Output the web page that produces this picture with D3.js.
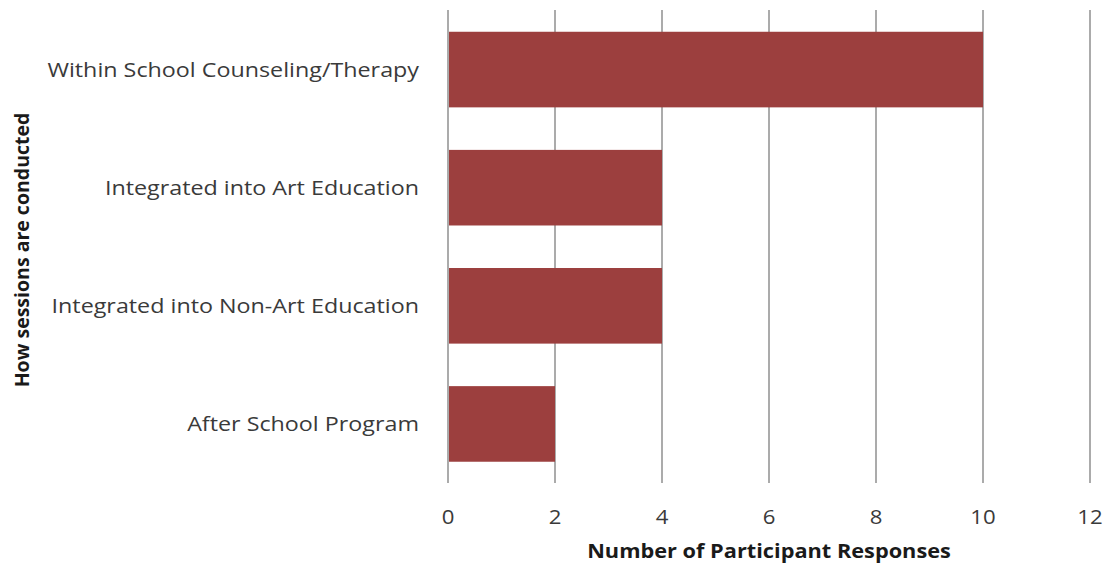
<!DOCTYPE html>
<html>
<head>
<meta charset="utf-8">
<script src="https://cdn.jsdelivr.net/npm/d3@7"></script>
<style>
  html, body { margin: 0; padding: 0; background: #fff; }
  svg { display: block; }
  .cat-label { font-family: "Open Sans", sans-serif; font-size: 20px; fill: #3a3a3a; }
  .tick-label { font-family: "Open Sans", sans-serif; font-size: 20px; fill: #3a3a3a; }
  .axis-title { font-family: "Open Sans", sans-serif; font-size: 19px; font-weight: bold; fill: #1a1a1a; }
</style>
</head>
<body>
<svg id="chart" width="1109" height="565"></svg>
<script>
// How art-therapy sessions are conducted, by number of responses
const categories = [
  "Within School Counseling/Therapy",
  "Integrated into Art Education",
  "Integrated into Non-Art Education",
  "After School Program"
];
const responses = [10, 4, 4, 2];
const xTicks = [0, 2, 4, 6, 8, 10, 12];
const xTitle = "Number of Participant Responses";
const yTitle = "How sessions are conducted";

const svg = d3.select("#chart");
const plot = { left: 448, right: 1090, top: 10, bottom: 483 };
// horizontal text is drawn slightly widened
const labelStretch = 1.165;
const tickStretch = 1.11;

const x = d3.scaleLinear().domain([0, 12]).range([plot.left, plot.right]);
const y = d3.scaleBand()
  .domain(categories)
  .range([plot.top + 0.5, plot.bottom])
  .paddingInner(0.36)
  .paddingOuter(0.18);

// vertical gridlines
svg.append("g")
  .selectAll("line")
  .data(xTicks)
  .join("line")
  .attr("x1", d => x(d)).attr("x2", d => x(d))
  .attr("y1", plot.top).attr("y2", plot.bottom)
  .attr("stroke", "#ababab")
  .attr("stroke-width", 2);

// bars
svg.append("g")
  .selectAll("rect")
  .data(categories)
  .join("rect")
  .attr("x", x(0) + 1)
  .attr("y", d => y(d))
  .attr("width", (d, i) => x(responses[i]) - x(0) - 1)
  .attr("height", y.bandwidth())
  .attr("fill", "#9c3f3e");

// category labels
svg.append("g")
  .selectAll("text")
  .data(categories)
  .join("text")
  .attr("class", "cat-label")
  .attr("transform", d => `translate(419,${y(d) + y.bandwidth() / 2}) scale(${labelStretch},1)`)
  .attr("dy", "0.35em")
  .attr("text-anchor", "end")
  .text(d => d);

// x tick labels
svg.append("g")
  .selectAll("text")
  .data(xTicks)
  .join("text")
  .attr("class", "tick-label")
  .attr("transform", d => `translate(${x(d)},517) scale(${tickStretch},1)`)
  .attr("dy", "0.35em")
  .attr("text-anchor", "middle")
  .text(d => d);

// axis titles
svg.append("text")
  .attr("class", "axis-title")
  .attr("transform", `translate(769,551) scale(1.145,1)`)
  .attr("dy", "0.35em")
  .attr("text-anchor", "middle")
  .text(xTitle);

svg.append("text")
  .attr("class", "axis-title")
  .style("font-size", "19.5px")
  .attr("transform", "translate(22,250) rotate(-90)")
  .attr("dy", "0.35em")
  .attr("text-anchor", "middle")
  .text(yTitle);
</script>
</body>
</html>
